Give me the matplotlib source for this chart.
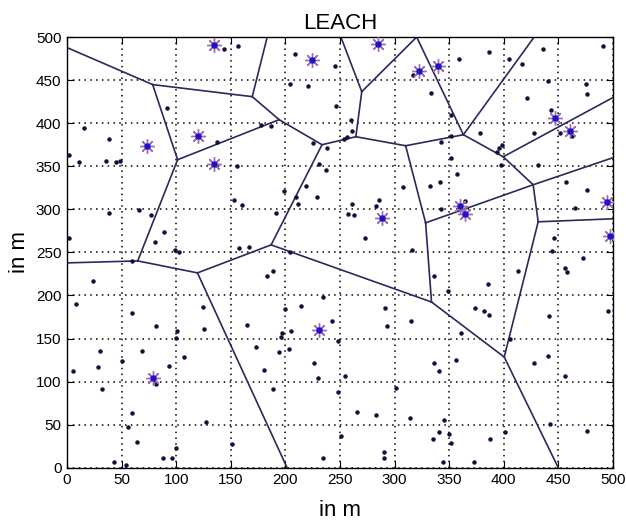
import numpy as np
import matplotlib
matplotlib.use("Agg")
import matplotlib.pyplot as plt

plt.rcParams['font.family'] = ['Liberation Sans', 'DejaVu Sans']

# cluster heads (stars)
ch_x = [135.0, 119.8, 73.6, 135.0, 224.8, 285.0, 322.1, 339.7, 447.4, 460.5,
        288.6, 360.1, 364.7, 494.5, 497.0, 230.8, 78.8]
ch_y = [491.3, 385.5, 373.8, 352.5, 473.0, 492.4, 460.2, 466.1, 406.0, 390.5,
        290.5, 303.3, 294.8, 308.4, 269.6, 159.9, 104.4]

# ordinary nodes
node_x = [143.5, 157.0, 91.9, 137.2, 15.8, 38.3, 2.1, 11.2, 35.3, 45.3, 48.7, 155.7,
          209.0, 245.4, 204.1, 221.1, 316.6, 333.6, 246.4, 260.0, 261.2, 256.7, 253.6,
          177.6, 186.8, 225.4, 238.4, 230.8, 236.9, 351.9, 342.8, 351.9, 357.0,
          359.2, 386.6, 404.8, 416.4, 436.1, 491.2, 440.7, 475.0, 476.2, 421.8, 443.7,
          427.9, 451.9, 462.9, 378.4, 398.1, 396.0, 393.5, 397.2, 431.6, 351.9,
          38.3, 65.7, 77.3, 2.1, 88.8, 80.9, 99.2, 102.5, 59.9, 153.3, 160.0, 157.8,
          167.0, 24.0, 8.2, 59.9, 124.4,
          198.9, 218.7, 210.2, 212.0, 229.3, 191.9, 261.2, 257.6, 262.8, 282.6, 286.2,
          273.4, 307.5, 332.8, 341.9, 342.8, 316.0, 204.1, 182.8, 188.9, 335.8, 348.8,
          234.5, 199.8, 214.1, 291.7,
          364.7, 456.8, 476.3, 465.0, 446.2, 444.3, 472.6, 455.9, 458.0, 412.7, 385.3,
          373.8, 382.0, 386.6, 441.3, 495.9,
          81.8, 100.7, 100.1, 125.3, 164.8, 173.1, 30.1, 68.7, 50.8, 106.8, 28.6, 5.7,
          93.1, 81.2, 32.2, 59.9, 55.9, 127.5, 64.5, 100.1, 150.8, 87.9, 96.1, 42.9, 54.5,
          242.4, 293.2, 315.4, 196.8, 205.0, 195.9, 203.5, 194.3, 248.2, 226.3, 180.4,
          229.9, 254.6, 188.9, 248.2, 301.4, 335.8, 340.3, 356.5, 265.8, 283.1, 314.4,
          345.2, 340.3, 334.9, 349.5, 351.9, 250.6, 234.5, 290.8, 290.8, 344.0,
          361.0, 405.7, 440.7, 427.9, 456.5, 401.2, 387.5, 442.8, 476.3, 372.9]
node_y = [486.2, 490.0, 417.7, 377.7, 394.4, 381.6, 363.4, 354.9, 356.4, 354.9, 356.4, 350.6,
          480.8, 466.1, 445.6, 443.6, 455.6, 435.1, 420.3, 403.3, 391.3, 384.0, 381.6,
          398.3, 396.3, 377.0, 371.2, 352.9, 346.0, 409.9, 377.7, 359.5, 341.3,
          474.7, 483.1, 474.7, 468.8, 486.6, 489.3, 448.6, 445.6, 434.0, 429.3, 414.9,
          388.6, 388.6, 385.5, 388.6, 375.0, 371.2, 366.1, 351.7, 351.7, 385.5,
          296.3, 299.4, 293.6, 267.2, 274.2, 262.6, 252.9, 251.0, 240.5, 311.0, 305.2, 254.9,
          256.7, 217.2, 189.8, 179.3, 187.0,
          320.7, 327.3, 314.2, 306.4, 314.2, 296.3, 306.4, 294.8, 293.6, 303.3, 311.0,
          267.2, 325.8, 327.3, 331.2, 300.2, 252.9, 251.0, 222.7, 228.9, 222.7, 205.6,
          197.9, 183.9, 187.8, 185.1,
          309.1, 331.2, 322.7, 302.1, 266.5, 251.7, 243.2, 231.6, 227.3, 228.9, 213.0,
          185.8, 182.3, 177.3, 176.4, 182.3,
          164.5, 159.1, 150.2, 160.7, 165.7, 139.8, 135.5, 135.5, 123.8, 128.1, 116.5, 112.2,
          118.0, 97.1, 91.3, 63.7, 47.5, 53.3, 30.0, 23.0, 28.1, 11.4, 11.4, 6.8, 3.7,
          170.7, 164.5, 170.7, 156.7, 158.7, 151.4, 137.8, 133.9, 147.1, 121.2, 113.4,
          104.4, 106.4, 91.3, 88.2, 92.8, 121.2, 112.2, 125.0, 64.9, 61.0, 57.9,
          55.2, 41.6, 33.1, 38.6, 28.9, 37.0, 11.4, 18.4, 11.4, 6.8,
          156.0, 149.0, 129.7, 121.2, 106.4, 41.6, 33.1, 50.6, 42.8, 6.8]

# voronoi vertices (incl. points where edges meet the border) and edges
vor_x = [78.5, 169.7, 183.4, 0.0, 101.3, 194.3, 233.6, 264.6, 270.0, 250.9,
         320.3, 363.1, 427.9, 310.2, 399.6, 500.0, 427.0, 500.0, 328.5, 333.9,
         431.6, 500.0, 400.5, 450.0, 187.0, 64.8, 0.0, 119.5, 201.6]
vor_y = [444.8, 430.8, 500.0, 487.8, 357.6, 404.1, 375.0, 384.3, 436.6, 500.0,
         500.0, 386.6, 500.0, 373.8, 361.0, 429.7, 328.5, 359.9, 284.3, 192.4,
         285.5, 289.0, 128.5, 0.0, 258.7, 240.1, 237.8, 226.2, 0.0]
vor_edges = [(3, 0), (0, 1), (1, 2), (0, 4), (1, 5), (4, 5), (4, 25), (5, 6),
             (6, 7), (6, 24), (7, 8), (7, 13), (8, 9), (8, 10), (10, 11),
             (11, 13), (11, 12), (11, 14), (14, 15), (14, 16), (16, 17), (16, 18),
             (16, 20), (13, 18), (18, 19), (19, 24), (19, 22), (20, 21), (20, 22),
             (22, 23), (24, 27), (25, 26), (25, 27), (27, 28)]

fig = plt.figure(figsize=(6.26, 5.22), dpi=100)
ax = fig.add_axes([0.107, 0.104, 0.872, 0.825])

for a, b in vor_edges:
    ax.plot([vor_x[a], vor_x[b]], [vor_y[a], vor_y[b]], color='#2a2a5c', lw=1.2, zorder=2)

ax.plot(node_x, node_y, 'o', ms=2.2, color='#10103a', zorder=3)
ax.plot(ch_x, ch_y, marker=(8, 2, 0), ls='none', ms=10.5, mew=1.0, color='#a070b0', zorder=4)
ax.plot(ch_x, ch_y, 'o', ms=3.6, color='#1c12c8', zorder=5)

ax.set_xlim(0, 500)
ax.set_ylim(0, 500)
ticks = np.arange(0, 501, 50)
ax.set_xticks(ticks)
ax.set_yticks(ticks)
ax.grid(True, color='black', linestyle=(0, (1, 2.8)), linewidth=1.1)
ax.tick_params(direction='in', length=5, top=True, right=True, labelsize=11, pad=4)
for s in ax.spines.values():
    s.set_linewidth(1.0)

ax.set_title('LEACH', fontsize=16, pad=6)
ax.set_xlabel('in m', fontsize=16, labelpad=9)
ax.set_ylabel('in m', fontsize=16, labelpad=4)

fig.savefig('out.png', dpi=100)
